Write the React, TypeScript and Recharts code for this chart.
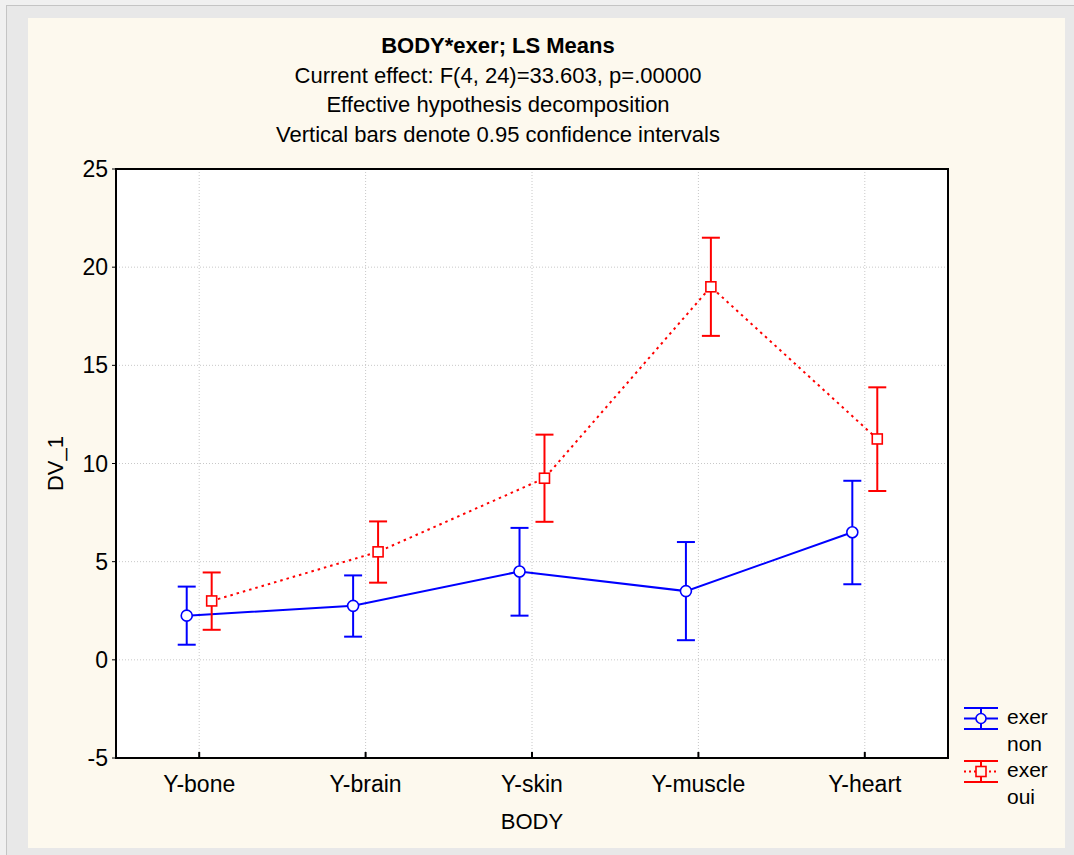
import {
  ComposedChart,
  Line,
  XAxis,
  YAxis,
  CartesianGrid,
  ErrorBar,
  ReferenceArea,
} from "recharts";

const CATEGORIES = ["Y-bone", "Y-brain", "Y-skin", "Y-muscle", "Y-heart"];

// exer = non
const NON_MEAN = [2.25, 2.75, 4.5, 3.5, 6.5];
const NON_LOW = [0.77, 1.18, 2.25, 1.0, 3.85];
const NON_HIGH = [3.73, 4.3, 6.72, 6.0, 9.12];

// exer = oui
const OUI_MEAN = [3.0, 5.5, 9.25, 19.0, 11.25];
const OUI_LOW = [1.53, 3.93, 7.03, 16.5, 8.6];
const OUI_HIGH = [4.45, 7.05, 11.47, 21.5, 13.88];

const Y_TICKS = [-5, 0, 5, 10, 15, 20, 25];
const X_TICKS = CATEGORIES.map((_, i) => i);

const TITLE = "BODY*exer; LS Means";
const SUBTITLES = [
  "Current effect: F(4, 24)=33.603, p=.00000",
  "Effective hypothesis decomposition",
  "Vertical bars denote 0.95 confidence intervals",
];

const DODGE = 0.075; // horizontal offset of each group around the category
const FONT = "'Liberation Sans', Arial, sans-serif";
const BLUE = "#0000ff";
const RED = "#ff0000";

function build(means: number[], lows: number[], highs: number[], shift: number) {
  return CATEGORIES.map((c, i) => ({
    name: c,
    x: i + shift,
    y: means[i],
    err: [means[i] - lows[i], highs[i] - means[i]],
  }));
}

const nonData = build(NON_MEAN, NON_LOW, NON_HIGH, -DODGE);
const ouiData = build(OUI_MEAN, OUI_LOW, OUI_HIGH, DODGE);

const SquareDot = (props: any) => {
  const { cx, cy } = props;
  if (cx == null || cy == null) return null;
  return (
    <rect x={cx - 5} y={cy - 5} width={10} height={10} fill="#fff" stroke={RED} strokeWidth={1.6} />
  );
};

function LegendIcon({ color, dashed, square }: { color: string; dashed?: boolean; square?: boolean }) {
  return (
    <svg width={38} height={26} style={{ display: "block" }}>
      <line x1={2} y1={2} x2={36} y2={2} stroke={color} strokeWidth={2} />
      <line x1={2} y1={23} x2={36} y2={23} stroke={color} strokeWidth={2} />
      <line x1={19} y1={2} x2={19} y2={23} stroke={color} strokeWidth={2} />
      <line
        x1={2}
        y1={12.5}
        x2={36}
        y2={12.5}
        stroke={color}
        strokeWidth={2}
        strokeDasharray={dashed ? "2 3" : undefined}
      />
      {square ? (
        <rect x={14} y={7.5} width={10} height={10} fill="#fdf9ee" stroke={color} strokeWidth={1.6} />
      ) : (
        <circle cx={19} cy={12.5} r={5} fill="#fdf9ee" stroke={color} strokeWidth={1.6} />
      )}
    </svg>
  );
}

const LEGEND = [
  { color: BLUE, label: ["exer", "non"], dashed: false, square: false },
  { color: RED, label: ["exer", "oui"], dashed: true, square: true },
];

export default function App() {
  return (
    <div
      style={{
        position: "absolute",
        left: 0,
        top: 0,
        width: 1074,
        height: 855,
        background: "#f0f0f0",
        fontFamily: FONT,
        overflow: "hidden",
      }}
    >
      {/* window frame */}
      <div
        style={{
          position: "absolute",
          left: 6,
          top: 5,
          width: 1074,
          height: 855,
          background: "#e8e8e8",
          borderLeft: "1px solid #c4c4c4",
          borderTop: "1px solid #c4c4c4",
        }}
      />
      <div
        style={{
          position: "absolute",
          left: 28,
          top: 18,
          width: 1037,
          height: 830,
          background: "#fdf9ee",
        }}
      />

      {/* titles */}
      <div
        style={{
          position: "absolute",
          left: 198,
          width: 600,
          top: 31,
          textAlign: "center",
          fontSize: 22,
          lineHeight: "29.5px",
          color: "#000",
        }}
      >
        <div style={{ fontWeight: "bold" }}>{TITLE}</div>
        {SUBTITLES.map((s) => (
          <div key={s}>{s}</div>
        ))}
      </div>

      <div style={{ position: "absolute", left: 0, top: 0 }}>
        <ComposedChart width={1074} height={855} margin={{ top: 169, right: 126, bottom: 0, left: 0 }}>
          <CartesianGrid stroke="#c8c8c8" strokeDasharray="1 2" fill="#fff" />
          <XAxis
            type="number"
            dataKey="x"
            domain={[-0.5, 4.5]}
            allowDataOverflow
            tickCount={11}
            ticks={X_TICKS}
            tickFormatter={(i: number) => CATEGORIES[i] ?? ""}
            height={97}
            axisLine={false}
            tickLine={{ stroke: "#000", strokeWidth: 2 }}
            tickSize={-6}
            tickMargin={24}
            tick={{ fill: "#000", fontSize: 23, fontFamily: FONT }}
            label={{
              value: "BODY",
              position: "insideBottom",
              offset: 26,
              fill: "#000",
              fontSize: 22,
              fontFamily: FONT,
            }}
          />
          <YAxis
            type="number"
            domain={[-5, 25]}
            allowDataOverflow
            tickCount={7}
            ticks={Y_TICKS}
            width={116}
            axisLine={false}
            tickLine={{ stroke: "#000", strokeWidth: 1 }}
            tickSize={4}
            tickMargin={4}
            tick={{ fill: "#000", fontSize: 23, fontFamily: FONT }}
            label={{
              value: "DV_1",
              angle: -90,
              position: "insideLeft",
              offset: 55,
              fill: "#000",
              fontSize: 22,
              fontFamily: FONT,
              style: { textAnchor: "middle" },
            }}
          />
          <ReferenceArea
            x1={-0.5}
            x2={4.5}
            y1={-5}
            y2={25}
            fill="none"
            stroke="#000"
            strokeWidth={2}
            ifOverflow="visible"
          />
          <Line
            data={nonData}
            dataKey="y"
            stroke={BLUE}
            strokeWidth={2}
            dot={{ r: 5.5, fill: "#fff", stroke: BLUE, strokeWidth: 1.6 }}
            activeDot={false}
            isAnimationActive={false}
          >
            <ErrorBar dataKey="err" direction="y" width={9} stroke={BLUE} strokeWidth={2} />
          </Line>
          <Line
            data={ouiData}
            dataKey="y"
            stroke={RED}
            strokeWidth={2}
            strokeDasharray="2.5 4"
            dot={<SquareDot />}
            activeDot={false}
            isAnimationActive={false}
          >
            <ErrorBar dataKey="err" direction="y" width={9} stroke={RED} strokeWidth={2} />
          </Line>
        </ComposedChart>
      </div>

      {/* legend */}
      <div style={{ position: "absolute", left: 962, top: 706, fontSize: 21, color: "#000" }}>
        {LEGEND.map((l) => (
          <div key={l.label.join(" ")} style={{ display: "flex", alignItems: "flex-start", height: 53 }}>
            <LegendIcon color={l.color} dashed={l.dashed} square={l.square} />
            <div style={{ marginLeft: 7, lineHeight: "27px", marginTop: -3 }}>
              <div>{l.label[0]}</div>
              <div>{l.label[1]}</div>
            </div>
          </div>
        ))}
      </div>
    </div>
  );
}
